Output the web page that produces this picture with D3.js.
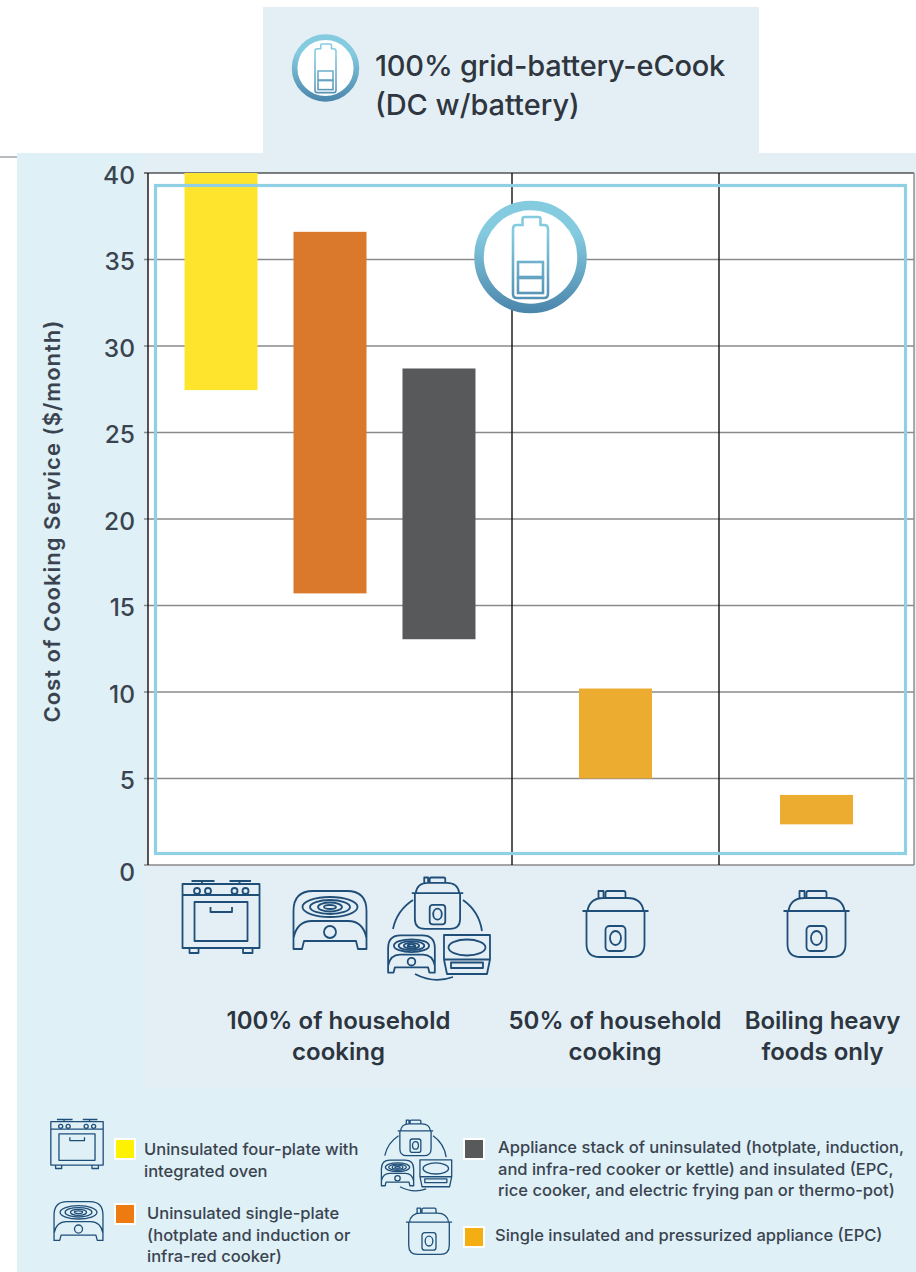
<!DOCTYPE html>
<html>
<head>
<meta charset="utf-8">
<script src="https://cdn.jsdelivr.net/npm/d3@7"></script>
<style>
  html, body { margin: 0; padding: 0; background: #fff; }
  svg { display: block; font-family: "Inter", "Noto Sans", sans-serif; }
</style>
</head>
<body>
<svg id="chart" width="916" height="1272"></svg>
<script>
// Monthly cost of cooking service by appliance set, for 100% grid-battery eCook.
const groups = ["100% of household cooking", "50% of household cooking", "Boiling heavy foods only"];
const appliances = ["four-plate", "single-plate", "stack", "epc-half", "epc-boiling"];
const applianceGroup = [0, 0, 0, 1, 2];
const costLow = [27.45, 15.7, 13.05, 5.0, 2.35];
const costHigh = [40, 36.6, 28.7, 10.2, 4.05];
const barColors = ["#ffe42d", "#da792c", "#58595b", "#ecac2f", "#ecac2f"];
const applianceIcons = ["stove", "hotplate", "stack", "cooker", "cooker"];
const yTicks = [0, 5, 10, 15, 20, 25, 30, 35, 40];

const ink = "#3a4450";
const iconInk = "#1f4e79";
const svg = d3.select("#chart");

const plot = { left: 148, right: 914, top: 173, bottom: 865 };
const groupEdges = [plot.left, 512, 719, plot.right];
const barWidth = 73;

const y = d3.scaleLinear().domain([0, 40]).range([plot.bottom, plot.top]);
// One point scale per group keeps its bars centred in the group's span.
const groupScales = groups.map((g, i) => d3.scalePoint()
  .domain(appliances.filter((a, j) => applianceGroup[j] === i))
  .range([groupEdges[i], groupEdges[i + 1]])
  .padding(0.67));
const barCentre = i => groupScales[applianceGroup[i]](appliances[i]);

// Gradient shared by the battery badges, set in each badge's own coordinates.
const defs = svg.append("defs");
const grad = defs.append("linearGradient").attr("id", "badge")
  .attr("gradientUnits", "userSpaceOnUse").attr("x1", 0).attr("y1", -56).attr("x2", 0).attr("y2", 56);
grad.append("stop").attr("offset", "28%").attr("stop-color", "#85cbe0");
grad.append("stop").attr("offset", "100%").attr("stop-color", "#4a85ab");

// Background panels.
const panels = [
  [263, 7, 496, 146, "#e4eff5"],
  [17, 153, 899, 1119, "#dff0f6"],
  [143, 153, 773, 935, "#e4eff5"]
];
svg.selectAll("rect.panel").data(panels).join("rect").attr("class", "panel")
  .attr("x", d => d[0]).attr("y", d => d[1]).attr("width", d => d[2]).attr("height", d => d[3])
  .attr("fill", d => d[4]);
svg.append("line").attr("x1", 0).attr("x2", 17).attr("y1", 157).attr("y2", 157)
  .attr("stroke", "#b9bcbe").attr("stroke-width", 2);

// Plot area, gridlines and group dividers.
svg.append("rect").attr("x", plot.left).attr("y", plot.top)
  .attr("width", plot.right - plot.left).attr("height", plot.bottom - plot.top).attr("fill", "#fff");
svg.selectAll("line.grid").data(yTicks).join("line").attr("class", "grid")
  .attr("x1", plot.left - 4).attr("x2", plot.right).attr("y1", d => y(d)).attr("y2", d => y(d))
  .attr("stroke", d => d === 40 ? "#555" : "#8a8a8a").attr("stroke-width", 1.6);
svg.selectAll("line.divider").data(groupEdges).join("line").attr("class", "divider")
  .attr("x1", d => d).attr("x2", d => d)
  .attr("y1", plot.top).attr("y2", plot.bottom)
  .attr("stroke", (d, i) => i === 3 ? "#8a8a8a" : "#111").attr("stroke-width", 1.4);

// Cost range bars.
svg.selectAll("rect.bar").data(appliances).join("rect").attr("class", "bar")
  .attr("x", (d, i) => barCentre(i) - barWidth / 2)
  .attr("width", barWidth)
  .attr("y", (d, i) => y(costHigh[i]))
  .attr("height", (d, i) => y(costLow[i]) - y(costHigh[i]))
  .attr("fill", (d, i) => barColors[i]);

// Frame marking the supply scenario.
svg.append("rect").attr("x", 155.5).attr("y", 185.5).attr("width", 750).attr("height", 668)
  .attr("fill", "none").attr("stroke", "#8fd0e4").attr("stroke-width", 3.2);

// Y axis.
const yAxis = d3.axisLeft(y).tickValues(yTicks).tickSize(0).tickPadding(13);
const axisG = svg.append("g").attr("transform", `translate(${plot.left},0)`).call(yAxis);
axisG.select(".domain").remove();
axisG.selectAll("text").attr("font-size", 24.5).attr("font-weight", 500).attr("fill", ink)
  .attr("font-family", "Inter").attr("dy", "0.42em")
  .attr("y", d => d === 0 ? 5 : 0);
svg.append("text").attr("transform", "translate(60,521) rotate(-90)")
  .attr("text-anchor", "middle").attr("font-size", 22).attr("font-weight", 600)
  .attr("letter-spacing", 1).attr("fill", ink)
  .text("Cost of Cooking Service ($/month)");

// Line-art icons, each drawn in a local box and placed by a transform.
function drawBattery(g) {
  const s = "url(#badge)";
  g.append("circle").attr("r", 51.5).attr("fill", "#fff").attr("stroke", s).attr("stroke-width", 9.5);
  g.append("path").attr("d", "M-17.5,-28 Q-17.5,-32 -13.5,-32 H-8 V-38 Q-8,-40 -6,-40 H8 Q10,-40 10,-38 V-32 H13.5 Q17.5,-32 17.5,-28 V37 Q17.5,41 13.5,41 H-13.5 Q-17.5,41 -17.5,37 Z")
    .attr("fill", "none").attr("stroke", s).attr("stroke-width", 2.6);
  [[5, 15], [21, 15]].forEach(c => {
    g.append("rect").attr("x", -12.5).attr("y", c[0]).attr("width", 25).attr("height", c[1])
      .attr("fill", "none").attr("stroke", s).attr("stroke-width", 2.6);
  });
}
function line(g, w) { return g.attr("fill", "none").attr("stroke", iconInk).attr("stroke-width", w).attr("stroke-linejoin", "round"); }
function drawStove(g, w) {
  const p = line(g.append("g"), w);
  p.append("path").attr("d", "M-38.5,-33 H38.5 V31 H-38.5 Z M-38.5,-22 H38.5 M-19,-33 V-36 M18.5,-33 V-36 M-29.5,-36 H-6.5 M8.5,-36 H30 M-26.5,-15 H26.5 V24 H-26.5 Z M-10.5,-10 V-5 H11 V-10 M-31.5,31 V36 H-22.5 V31 M22,31 V36 H31.5 V31");
  [-24, -13, 13.5, 24.5].forEach(cx => p.append("circle").attr("cx", cx).attr("cy", -26).attr("r", 3));
}
function drawHotplate(g, w) {
  const p = line(g.append("g"), w);
  p.append("path").attr("d", "M-36.5,29 H-28 L-26,21 H26 L28,29 H36.5 V-9 Q36.5,-29 17,-29 H-17 Q-36.5,-29 -36.5,-9 Z M-36.5,18 Q-33,1 -18,1 H18 Q33,1 36.5,18");
  p.append("circle").attr("cy", 12).attr("r", 6);
  [[27.5, 10], [20, 7], [12, 4.5], [6, 2]].forEach(e => p.append("ellipse").attr("cy", -13).attr("rx", e[0]).attr("ry", e[1]));
}
function drawCooker(g, w) {
  const p = line(g.append("g"), w);
  p.append("path").attr("d", "M-29,-14 V19 Q-29,32 -16,32 H16 Q29,32 29,19 V-14 M-33,-14 H33 M-28,-14 Q-26,-27 -12,-27 H12 Q26,-27 28,-14 M-17,-27 V-34 H-12 V-27 M-10,-27 V-32 Q-10,-34 -8,-34 H8 Q10,-34 10,-32 V-27");
  p.append("rect").attr("x", -10).attr("y", 1).attr("width", 20).attr("height", 25).attr("rx", 4);
  p.append("ellipse").attr("cy", 13).attr("rx", 5.5).attr("ry", 7);
}
function drawInduction(g, w) {
  const p = line(g.append("g"), w);
  p.append("path").attr("d", "M-23,-19.5 H23 V5 L20,19.5 H-20 L-23,5 Z M-23,5 H23");
  p.append("ellipse").attr("cy", -7).attr("rx", 18.5).attr("ry", 8);
  p.append("rect").attr("x", -16).attr("y", 8).attr("width", 32).attr("height", 5.5);
}
function drawStack(g, w) {
  const p = line(g.append("g"), w);
  p.append("path").attr("d", "M-46,1 A46,46 0 0 1 -26,-28 M24,-28 A46,46 0 0 1 43,3 M-24,46 Q-5,56 14,49");
  drawCooker(g.append("g").attr("transform", "translate(-1.5,-24) scale(0.78)"), w / 0.78);
  drawHotplate(g.append("g").attr("transform", "translate(-27.5,26) scale(0.64)"), w / 0.64);
  drawInduction(g.append("g").attr("transform", "translate(28,26.5)"), w);
}
const iconDrawers = { stove: drawStove, hotplate: drawHotplate, stack: drawStack, cooker: drawCooker };
function placeIcon(name, x, yPos, scale, width) {
  const g = svg.append("g").attr("transform", `translate(${x},${yPos}) scale(${scale})`);
  iconDrawers[name](g, width / scale);
}

// Appliance icons beneath each bar.
const iconY = { stove: 917, hotplate: 920, stack: 928, cooker: 925 };
appliances.forEach((a, i) => {
  const name = applianceIcons[i];
  placeIcon(name, barCentre(i), iconY[name], 1, 1.8);
});

// Battery badges.
drawBattery(svg.append("g").attr("transform", "translate(530.5,257)"));
drawBattery(svg.append("g").attr("transform", "translate(325.5,68) scale(0.6)"));

// Title.
const title = svg.append("text").attr("font-size", 29).attr("font-weight", 500).attr("fill", "#2f3640");
title.append("tspan").attr("x", 375).attr("y", 76).attr("letter-spacing", -0.2).text("100% grid-battery-eCook");
title.append("tspan").attr("x", 375).attr("y", 115).text("(DC w/battery)");

// Group captions.
const captionLines = [["100% of household", "cooking"], ["50% of household", "cooking"], ["Boiling heavy", "foods only"]];
const captionX = [338.5, 615, 822.5];
const captions = svg.selectAll("text.caption").data(captionLines).join("text").attr("class", "caption")
  .attr("text-anchor", "middle").attr("font-size", 24).attr("font-weight", 600).attr("fill", "#2c3540");
captions.each(function (d, i) {
  d3.select(this).selectAll("tspan").data(d).join("tspan")
    .attr("x", captionX[i]).attr("y", (t, j) => 1029 + j * 31).text(t => t);
});

// Legend.
const legendColors = ["#fff200", "#ee7b11", "#58595b", "#f5ae12"];
const legendIcons = ["stove", "hotplate", "stack", "cooker"];
const legendText = [
  ["Uninsulated four-plate with", "integrated oven"],
  ["Uninsulated single-plate", "(hotplate and induction or", "infra-red cooker)"],
  ["Appliance stack of uninsulated (hotplate, induction,", "and infra-red cooker or kettle) and insulated (EPC,", "rice cooker, and electric frying pan or thermo-pot)"],
  ["Single insulated and pressurized appliance (EPC)"]
];
const legendSwatch = [[115, 1139], [115, 1204], [464, 1139], [464, 1227]];
const legendTextPos = [[144, 1155], [147, 1219], [498, 1153], [495, 1241]];
const legendIconPos = [[77, 1144, 0.68], [78.5, 1221, 0.67], [416.5, 1155, 0.69], [429, 1232, 0.7]];
const legendLead = 21.5;

legendColors.forEach((c, i) => {
  svg.append("rect").attr("x", legendSwatch[i][0]).attr("y", legendSwatch[i][1])
    .attr("width", 20).attr("height", 20).attr("fill", c)
    .attr("stroke", "#fff").attr("stroke-width", 2);
  placeIcon(legendIcons[i], legendIconPos[i][0], legendIconPos[i][1], legendIconPos[i][2], 1.3);
  const t = svg.append("text").attr("font-size", 16.55).attr("font-weight", 500).attr("fill", ink);
  t.selectAll("tspan").data(legendText[i]).join("tspan")
    .attr("x", legendTextPos[i][0]).attr("y", (d, j) => legendTextPos[i][1] + j * legendLead).text(d => d);
});
</script>
</body>
</html>
